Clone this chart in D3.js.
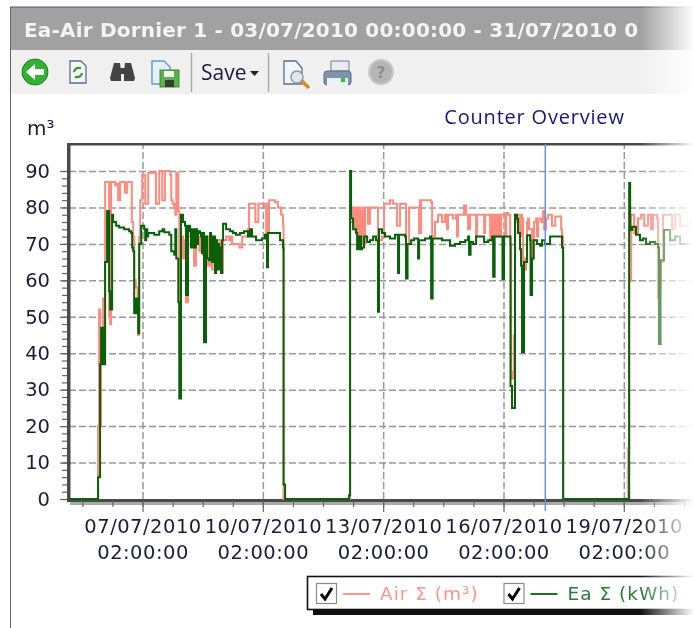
<!DOCTYPE html>
<html>
<head>
<meta charset="utf-8">
<style>
html, body { margin: 0; padding: 0; background: #fff; }
svg { display: block; filter: blur(0.5px); }
text { font-family: "DejaVu Sans", sans-serif; }
.grid line { stroke: #999; stroke-width: 1.5px; stroke-dasharray: 7,3; }
.grid path, .axis path { stroke: none; fill: none; }
.axis line { stroke: #666; stroke-width: 1.2px; }
.axis text { fill: #1c1c3a; font-size: 19.5px; }
.line { fill: none; stroke-linejoin: miter; }
</style>
</head>
<body>
<script src="https://d3js.org/d3.v7.min.js"></script>
<script>

// values, hours are counted from 05/07/2010 06:00
var yTicks = [0, 10, 20, 30, 40, 50, 60, 70, 80, 90];
var xTickHours = [44, 116, 188, 260, 332];
var xTickDates = ["07/07/2010", "10/07/2010", "13/07/2010", "16/07/2010", "19/07/2010"];
var xTickTimes = ["02:00:00", "02:00:00", "02:00:00", "02:00:00", "02:00:00"];
var cursorHour = 285;

var airHours = [
  0, 17.4, 18, 18.6, 19.2, 20.4, 21.6, 22.2, 24, 24.6, 25.2, 27.6, 28.8, 29.4, 30, 30.6, 33, 33.5, 34.2, 34.8,
  37, 37.6, 38.4, 39, 40, 41, 41.4, 42, 42.6, 43.2, 43.8, 45, 45.6, 46.8, 47.4, 52, 53.4, 54, 55.8, 56.8,
  57.4, 60.6, 61.2, 62, 63, 63.6, 64.2, 64.8, 65.4, 66, 67, 68.2, 69.4, 70, 70.6, 71.2, 73, 74.8, 75.4, 76,
  78, 78.4, 80, 81, 83.2, 84, 84.4, 85.6, 86.2, 87, 90.4, 91, 91.6, 92.2, 94, 95.8, 96.4, 97.6, 102, 103,
  103.6, 107, 107.7, 111, 111.5, 112.7, 113.3, 117.3, 118, 118.6, 119, 119.7, 123.3, 125, 126.9, 128.1, 128.4, 167.6, 168.2, 170,
  170.5, 171.2, 171.8, 172.4, 173, 173.6, 174.2, 174.8, 175.4, 176, 176.6, 177.2, 178.9, 180.1, 183.7, 184.9, 187.3, 188.5, 192.1, 193.9,
  196.3, 197.5, 198.1, 201.1, 201.7, 202.9, 203.5, 208.9, 209.5, 210, 210.4, 210.7, 216.7, 217.3, 217.9, 219, 220.8, 222, 223.2, 225,
  226.2, 226.8, 229.2, 229.8, 231.6, 232.2, 232.8, 235.8, 236.4, 237.6, 238.8, 240, 242.4, 243.6, 244.2, 247.8, 248.4, 249, 250.7, 252,
  252.6, 253.2, 253.8, 254.4, 255, 255.6, 256.2, 256.8, 257.4, 258, 258.6, 260.3, 261, 261.6, 262.7, 264, 264.6, 265.7, 266.3, 266.9,
  267.5, 269.3, 269.8, 270.5, 271.1, 271.7, 272.3, 272.9, 273.5, 274.1, 274.7, 275.3, 276.5, 277.1, 277.7, 278.3, 279.5, 280, 280.7, 282.5,
  283.7, 284.3, 285.5, 286.7, 289, 291, 293.9, 294.5, 295, 295.7, 334, 334.6, 335.2, 336.4, 338.2, 340.5, 342.4, 344.2, 346.5, 348.3,
  349.5, 351.3, 351.9, 352.5, 353, 354.3, 355.5, 359.7, 360.9, 362.7, 365.7, 371.7
];
var airValues = [
  0, 20, 52, 20, 40, 55, 87, 87, 50, 48, 87, 86, 86.5, 82, 82, 87, 87, 84, 84, 87,
  87, 76, 72, 60, 58, 55, 45, 72, 82, 82, 89, 89, 81, 81, 89.5, 81, 81, 90, 82, 82,
  90, 89, 82, 81, 80, 78, 89.5, 89.5, 79, 40, 72, 66, 71, 54, 54, 72, 70, 64, 64, 70,
  68, 72, 67, 72, 64, 64, 72, 63, 63, 71, 70, 62, 62, 71, 72, 71, 72, 70, 69, 69,
  72, 74, 81, 81, 76, 76, 81, 80, 73, 81, 73, 82, 81.5, 80, 78, 75, 0, 0, 76, 80,
  74, 80, 73, 80, 72, 80, 71, 79, 70, 80, 70, 80, 75.5, 80, 80, 71, 72, 81, 82, 81,
  75, 75, 81, 81, 70, 70, 80, 80, 73, 82, 73, 82, 81.5, 72, 72, 76, 78, 78, 76, 78,
  74, 78, 78, 77, 78, 72, 78, 78, 80.5, 78, 74, 78, 78, 72, 78, 78, 73, 78, 78, 71,
  78, 72, 78, 72, 78, 72, 78, 72, 78, 72, 78, 78, 72, 78.5, 78, 70, 33, 35, 45, 76,
  78, 78, 72, 78, 77, 63, 66, 63, 65, 76, 77, 74, 74, 66, 66, 76, 77, 72, 77, 76,
  79, 74, 77, 78, 75, 77.5, 77.5, 74, 72, 0, 0, 14, 60, 78, 73, 77, 78, 75, 78, 74,
  78, 78, 77, 55, 58, 65, 78, 78, 74, 78, 75, 77
];

var eaHours = [
  0, 17.4, 18.6, 19.2, 19.8, 20.4, 21, 21.6, 22.8, 24, 24.6, 25.8, 26.4, 28.2, 30, 33, 36, 37.2, 37.8, 38.4,
  39, 39.6, 40.2, 40.8, 41.4, 42, 43.2, 45, 45.6, 46.2, 46.8, 47.4, 51, 54, 56, 57, 60, 61.2, 63, 63.6,
  64.2, 65.4, 66, 67, 68.2, 69.4, 70, 70.6, 71.2, 72.4, 73, 73.6, 74.2, 74.8, 75.4, 76, 76.6, 77.2, 78.4, 79,
  79.6, 80.2, 80.8, 81.4, 82, 82.6, 83.8, 84.4, 85, 85.6, 86.2, 86.8, 87.4, 88, 88.6, 89.2, 89.8, 90.4, 91, 91.6,
  92.2, 94, 96.4, 98.2, 99.9, 102.3, 104.7, 106.5, 107.1, 108.3, 109.5, 111.9, 115.5, 117.3, 118.5, 119.1, 119.7, 123.3, 126.3, 128.1,
  128.4, 129.3, 167.6, 168.2, 168.8, 170, 171.8, 172.4, 173, 173.6, 174.2, 174.8, 175.4, 176.6, 178.4, 180.1, 182, 183.7, 184.9, 185.5,
  187.3, 189.1, 192.1, 195.1, 196.9, 197.5, 201.1, 201.7, 202.6, 204.7, 206.5, 208.9, 209.5, 213, 216, 216.7, 217.6, 220.2, 223.2, 228,
  231, 234, 237, 238.8, 239.4, 240.3, 241.8, 243.6, 246, 248.4, 250.8, 252.6, 253.2, 253.8, 254.7, 256.8, 259.4, 260.3, 263.9, 264.2,
  265.1, 266.3, 266.9, 268.1, 268.7, 269.9, 270.5, 271.1, 272.3, 273.5, 274.1, 275.9, 276.2, 277.1, 278, 280.1, 281.9, 283.1, 284.9, 286.1,
  287.9, 290.9, 293.9, 295, 295.7, 335.2, 335.8, 337, 339.3, 341.7, 343.5, 345.3, 347.7, 350.7, 352.5, 353.1, 354, 356.1, 359.7, 362.7,
  365.7, 371.7
];
var eaValues = [
  0, 6, 37, 47, 37, 47, 37, 65, 79, 57, 52, 78, 76, 75, 74.5, 74, 73.5, 73, 69, 68,
  51, 55, 51, 55, 45.5, 70, 75, 74, 71, 74, 72, 73, 72.5, 73.5, 74, 73.2, 72.5, 68, 67, 74,
  66, 54, 27.6, 78, 76, 75, 56, 56, 75, 73.5, 69, 74, 69, 74, 69, 74, 70, 73.5, 73, 72,
  67.5, 73, 43, 43, 72, 66, 65.5, 73, 72, 65, 70, 72, 62, 71, 63, 70, 63, 69, 62, 71,
  75.5, 74, 73.5, 73, 72.5, 73, 73.5, 73.5, 72, 74, 72, 71, 71.5, 72.5, 63.6, 73, 73, 73, 71, 69,
  4, 0, 1, 90, 77, 74, 73, 68.5, 72, 68.5, 72, 68.5, 69, 72, 70.5, 71, 72, 71, 51.4, 74,
  73, 72, 71.5, 72.5, 62, 72.5, 72, 60.5, 70, 71, 71.5, 66, 71, 71.5, 72, 55, 71.5, 71.5, 71, 69.5,
  70, 70.5, 71, 72, 67, 70.5, 70, 72, 72, 70.5, 71, 71, 72, 61, 72, 72, 60.4, 72, 72, 31,
  25, 25, 78, 77, 73, 68.5, 64, 40.3, 65, 65, 72.4, 71, 56, 66, 71, 70, 69.5, 71, 70, 70,
  72, 72, 72, 69, 0, 86.7, 73.8, 74.7, 72.5, 71, 71.5, 70, 70.5, 70, 69, 42.5, 65.5, 73.8, 71, 72,
  70, 70
];

var airData = d3.zip(airHours, airValues);
var eaData = d3.zip(eaHours, eaValues);

var plot = {left: 69, top: 144, right: 694, bottom: 499};

var svg = d3.select("body").append("svg")
    .attr("width", 694)
    .attr("height", 628);

var defs = svg.append("defs");
defs.append("clipPath").attr("id", "plotclip").append("rect")
    .attr("x", plot.left).attr("y", plot.top)
    .attr("width", plot.right - plot.left).attr("height", plot.bottom - plot.top + 1);

var fade = defs.append("linearGradient").attr("id", "fade");
fade.append("stop").attr("offset", "0%").attr("stop-color", "#fff").attr("stop-opacity", 0);
fade.append("stop").attr("offset", "45%").attr("stop-color", "#fff").attr("stop-opacity", 0.45);
fade.append("stop").attr("offset", "100%").attr("stop-color", "#fff").attr("stop-opacity", 1);

// window chrome
svg.append("rect").attr("x", 10).attr("y", 7).attr("width", 684).attr("height", 43).attr("fill", "#a1a1a1");
svg.append("rect").attr("x", 10).attr("y", 50).attr("width", 684).attr("height", 44).attr("fill", "#f0f0f0");
svg.append("line").attr("x1", 10.5).attr("x2", 10.5).attr("y1", 7).attr("y2", 628).attr("stroke", "#666");
svg.append("line").attr("x1", 10).attr("x2", 694).attr("y1", 7).attr("y2", 7).attr("stroke", "#556");

// only the part of the title that the picture shows
svg.append("text")
    .attr("x", 24).attr("y", 37)
    .attr("fill", "#f4f4f4")
    .style("font-size", "20px")
    .style("font-weight", "bold")
    .style("letter-spacing", "0.2px")
    .text("Ea-Air Dornier 1 - 03/07/2010 00:00:00 - 31/07/2010 0");

// toolbar icons
var tb = svg.append("g");
tb.append("circle").attr("cx", 35).attr("cy", 72).attr("r", 13).attr("fill", "#35b032").attr("stroke", "#1f7f1f");
tb.append("path").attr("d", "M26 72 L35 64 V69 H44 V75 H35 V80 Z").attr("fill", "#fff");

tb.append("path").attr("d", "M70 61 H81 L86 66 V83 H70 Z").attr("fill", "#f4f6fb").attr("stroke", "#5a6f96").attr("stroke-width", 1.3);
tb.append("path").attr("d", "M74 72 Q75 67 81 68 M82 73 Q81 78 75 77").attr("fill", "none").attr("stroke", "#3c9a28").attr("stroke-width", 2.2);

var bino = tb.append("g").attr("fill", "#444");
bino.append("path").attr("d", "M110 78 L114 63 H120 L121 72 V81 H111 Z");
bino.append("path").attr("d", "M135 78 L131 63 H125 L124 72 V81 H134 Z");
bino.append("rect").attr("x", 120).attr("y", 68).attr("width", 5).attr("height", 6);

tb.append("path").attr("d", "M152 61 H164 L170 67 V84 H152 Z").attr("fill", "#e6f0fb").attr("stroke", "#5c9ad6").attr("stroke-width", 1.4);
tb.append("rect").attr("x", 160).attr("y", 70).attr("width", 19).attr("height", 17).attr("fill", "#5db04a").attr("stroke", "#3e8a34");
tb.append("rect").attr("x", 164).attr("y", 71).attr("width", 10).attr("height", 6).attr("fill", "#eef7ea");
tb.append("rect").attr("x", 165).attr("y", 80).attr("width", 9).attr("height", 7).attr("fill", "#33402f");

tb.selectAll("line.sep").data([191.5, 268.5]).enter().append("line")
    .attr("x1", function(d) { return d; }).attr("x2", function(d) { return d; })
    .attr("y1", 53).attr("y2", 92).attr("stroke", "#a8a8a8").attr("stroke-width", 1.4);

tb.append("text").attr("x", 201).attr("y", 80).attr("fill", "#1b1b3a").style("font-size", "21px")
    .style("font-family", "'Open Sans', sans-serif").text("Save");
tb.append("path").attr("d", "M250 71 H259 L254.5 76 Z").attr("fill", "#222");

tb.append("path").attr("d", "M284 61 H296 L302 68 V84 H284 Z").attr("fill", "#f2f5fb").attr("stroke", "#5a6f96").attr("stroke-width", 1.3);
tb.append("circle").attr("cx", 297).attr("cy", 77).attr("r", 6).attr("fill", "#dfe8ee").attr("stroke", "#8b9aa6").attr("stroke-width", 1.5);
tb.append("path").attr("d", "M302 81 L309 88").attr("stroke", "#d98a2c").attr("stroke-width", 3.5);

tb.append("path").attr("d", "M331 61 H349 V71 H331 Z").attr("fill", "#e9edf2").attr("stroke", "#6d7f95");
tb.append("rect").attr("x", 324).attr("y", 71).attr("width", 27).attr("height", 14).attr("rx", 3).attr("fill", "#7f93ab").attr("stroke", "#5a6f8c");
tb.append("rect").attr("x", 327).attr("y", 78).attr("width", 21).attr("height", 8).attr("fill", "#eef1f4");
tb.append("rect").attr("x", 341).attr("y", 78).attr("width", 4).attr("height", 4).attr("fill", "#22cc33");

tb.append("circle").attr("cx", 381).attr("cy", 72).attr("r", 12).attr("fill", "#b5b5b5").attr("stroke", "#c8c8c8").attr("stroke-width", 2);
tb.append("text").attr("x", 381).attr("y", 78).attr("text-anchor", "middle").attr("fill", "#8d8d8d")
    .style("font-size", "16px").style("font-weight", "bold").text("?");

// chart headings
svg.append("text").attr("x", 27).attr("y", 135).attr("fill", "#1c1c3a").style("font-size", "20px").text("m³");
svg.append("text").attr("x", 534.5).attr("y", 124).attr("text-anchor", "middle").attr("fill", "#17177f")
    .style("font-size", "20px").style("letter-spacing", "0.8px")
    .style("font-family", "'Open Sans', sans-serif").text("Counter Overview");

// set the ranges, 1.671 px for an hour
var x = d3.scaleLinear().domain([0, 374]).range([plot.left, plot.right]);
var y = d3.scaleLinear().domain([0, 90]).range([plot.bottom, 171]);

// gridlines
svg.append("g")
    .attr("class", "grid")
    .attr("transform", "translate(0," + plot.bottom + ")")
    .call(d3.axisBottom(x).tickValues(xTickHours).tickSize(-(plot.bottom - plot.top)).tickFormat(""));

svg.append("g")
    .attr("class", "grid")
    .attr("transform", "translate(" + plot.left + ",0)")
    .call(d3.axisLeft(y).tickValues(yTicks.slice(1)).tickSize(-(plot.right - plot.left)).tickFormat(""));

// frame
svg.append("rect").attr("x", plot.left + 1).attr("y", plot.bottom + 3).attr("width", 625).attr("height", 3).attr("fill", "#aaa");
svg.append("rect").attr("x", plot.left - 2).attr("y", plot.top - 1).attr("width", 3.5).attr("height", plot.bottom - plot.top + 4).attr("fill", "#4a4a4a");
svg.append("rect").attr("x", plot.left - 2).attr("y", plot.top - 1).attr("width", 627).attr("height", 2.5).attr("fill", "#4a4a4a");
svg.append("rect").attr("x", plot.left - 2).attr("y", plot.bottom).attr("width", 627).attr("height", 3).attr("fill", "#4a4a4a");

// minor ticks, every 2.5 m³ and every 18 hours
svg.append("g")
    .attr("class", "axis")
    .attr("transform", "translate(" + (plot.left - 2) + ",0)")
    .call(d3.axisLeft(y).ticks(36).tickSize(5).tickFormat(""));

svg.append("g")
    .attr("class", "axis")
    .attr("transform", "translate(0," + (plot.bottom + 2) + ")")
    .call(d3.axisBottom(x).tickValues(d3.range(8, 374, 18)).tickSize(6).tickFormat(""));

// y axis labels
var yAxis = svg.append("g")
    .attr("class", "axis")
    .attr("transform", "translate(" + (plot.left - 2) + ",0)")
    .call(d3.axisLeft(y).tickValues(yTicks).tickSize(7).tickPadding(10));

// x axis labels on two rows
var xAxis = svg.append("g")
    .attr("class", "axis")
    .attr("transform", "translate(0," + (plot.bottom + 2) + ")")
    .call(d3.axisBottom(x).tickValues(xTickHours).tickSize(11).tickFormat(""));

xAxis.selectAll(".tick text").each(function(d, i) {
  var t = d3.select(this).attr("y", 0).attr("dy", null);
  t.append("tspan").attr("x", 0).attr("y", 32).style("letter-spacing", "0.5px").text(xTickDates[i]);
  t.append("tspan").attr("x", 0).attr("y", 58).style("letter-spacing", "0.5px").text(xTickTimes[i]);
});

// the two series
var valueline = d3.line()
    .curve(d3.curveStepAfter)
    .x(function(d) { return x(d[0]); })
    .y(function(d) { return y(d[1]); });

var lines = svg.append("g").attr("clip-path", "url(#plotclip)");

lines.append("path")
    .data([airData])
    .attr("class", "line")
    .style("stroke", "#ff8a7e")
    .style("stroke-width", "2px")
    .attr("d", valueline);

lines.append("path")
    .data([eaData])
    .attr("class", "line")
    .style("stroke", "#086008")
    .style("stroke-width", "2px")
    .attr("d", valueline);

// cursor
svg.append("line")
    .attr("x1", x(cursorHour)).attr("x2", x(cursorHour))
    .attr("y1", plot.top).attr("y2", plot.bottom + 12)
    .attr("stroke", "#5f8fe8").attr("stroke-width", 1.4);

// legend
svg.append("rect").attr("x", 313).attr("y", 609).attr("width", 381).attr("height", 6).attr("fill", "#111");
svg.append("rect").attr("x", 307.5).attr("y", 576.5).attr("width", 400).attr("height", 33)
    .attr("fill", "#fff").attr("stroke", "#111").attr("stroke-width", 1.6);

var legendItems = ["Air Σ (m³)", "Ea Σ (kWh)"];
var legendColors = ["#ff8a7e", "#086008"];
var legendText = ["#ff9489", "#2a7a36"];
var legendX = [316, 503.5];

var legend = svg.selectAll("g.legend").data(legendItems).enter().append("g")
    .attr("class", "legend")
    .attr("transform", function(d, i) { return "translate(" + legendX[i] + ",583)"; });

legend.append("rect").attr("x", 0.5).attr("y", 0.5).attr("width", 20).attr("height", 20)
    .attr("fill", "#fff").attr("stroke", "#8a8a8a").attr("stroke-width", 1.2);
legend.append("path").attr("d", "M5 11 L9 16 L16 5").attr("fill", "none").attr("stroke", "#000").attr("stroke-width", 3);
legend.append("line").attr("x1", 27).attr("x2", 54).attr("y1", 11).attr("y2", 11)
    .attr("stroke", function(d, i) { return legendColors[i]; }).attr("stroke-width", 1.8);
legend.append("text").attr("x", 64).attr("y", 17)
    .attr("fill", function(d, i) { return legendText[i]; })
    .style("font-size", "18.5px")
    .style("letter-spacing", "1px")
    .text(function(d) { return d; });

// the picture fades out to the right
svg.append("rect").attr("x", 640).attr("y", 0).attr("width", 54).attr("height", 628).attr("fill", "url(#fade)");

</script>
</body>
</html>
